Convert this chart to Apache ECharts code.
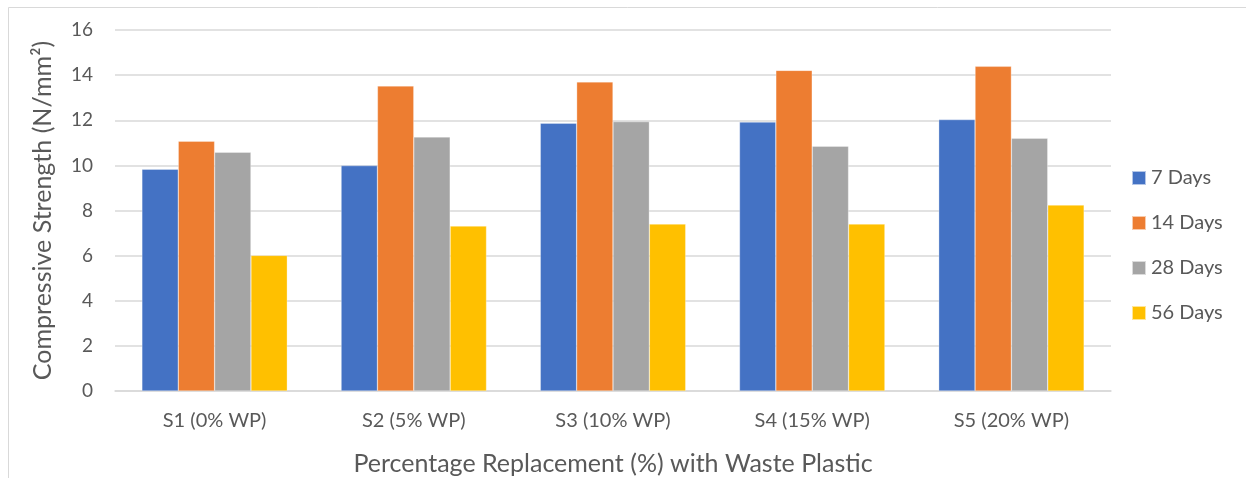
<!DOCTYPE html>
<html>
<head>
<meta charset="utf-8">
<script src="https://cdn.jsdelivr.net/npm/echarts@6/dist/echarts.min.js"></script>
<style>
  html, body { margin: 0; padding: 0; background: #fff; }
  #chart { width: 1246px; height: 478px; }
</style>
</head>
<body>
<div id="chart"></div>
<script>
// Mix labels and compressive strength results (N/mm²) per curing age
const categories = ['S1 (0% WP)', 'S2 (5% WP)', 'S3 (10% WP)', 'S4 (15% WP)', 'S5 (20% WP)'];
const days7  = [9.83, 9.99, 11.87, 11.92, 12.03];
const days14 = [11.07, 13.52, 13.70, 14.21, 14.39];
const days28 = [10.58, 11.26, 11.94, 10.85, 11.20];
const days56 = [6.01, 7.31, 7.40, 7.40, 8.24];
const seriesNames = ['7 Days', '14 Days', '28 Days', '56 Days'];
const seriesColors = ['#4472C4', '#ED7D31', '#A5A5A5', '#FFC000'];

const font = 'Lato, "Open Sans", "Liberation Sans", sans-serif';
const textColor = '#595959';
const gridColor = '#d9d9d9';

const chart = echarts.init(document.getElementById('chart'), null, { renderer: 'canvas' });

const values = [days7, days14, days28, days56];

chart.setOption({
  animation: false,
  backgroundColor: '#ffffff',
  textStyle: { fontFamily: font, color: textColor },
  graphic: [{
    type: 'rect',
    shape: { x: 8.5, y: 7.5, width: 1260, height: 500 },
    style: { fill: 'none', stroke: gridColor, lineWidth: 1 },
    silent: true
  }],
  grid: { left: 115, right: 135, top: 30, bottom: 87, containLabel: false, outerBoundsMode: 'none' },
  legend: {
    orient: 'vertical',
    left: 1131,
    top: 168,
    padding: 0,
    itemWidth: 14,
    itemHeight: 14,
    itemGap: 25,
    icon: 'rect',
    textStyle: { fontFamily: font, fontSize: 20, color: textColor, lineHeight: 16 },
    data: seriesNames
  },
  xAxis: {
    type: 'category',
    data: categories,
    name: 'Percentage Replacement (%) with Waste Plastic',
    nameLocation: 'middle',
    nameGap: 60,
    nameTextStyle: { fontFamily: font, fontSize: 25, color: textColor },
    axisLine: { show: true, lineStyle: { color: gridColor, width: 1.5 } },
    axisTick: { show: false },
    axisLabel: { fontFamily: font, fontSize: 20, color: textColor, margin: 20 }
  },
  yAxis: {
    type: 'value',
    min: 0,
    max: 16,
    interval: 2,
    name: 'Compressive Strength (N/mm²)',
    nameLocation: 'middle',
    nameGap: 60,
    nameTextStyle: { fontFamily: font, fontSize: 25, color: textColor },
    axisLine: { show: false },
    axisTick: { show: false },
    axisLabel: { fontFamily: font, fontSize: 19, color: textColor, margin: 22 },
    splitLine: { lineStyle: { color: gridColor, width: 1.5 } }
  },
  series: seriesNames.map((name, i) => ({
    name: name,
    type: 'bar',
    data: values[i],
    barGap: '0%',
    barCategoryGap: '27%',
    itemStyle: { color: seriesColors[i], borderColor: 'rgba(255,255,255,0.6)', borderWidth: 0.5 }
  }))
});
</script>
</body>
</html>
